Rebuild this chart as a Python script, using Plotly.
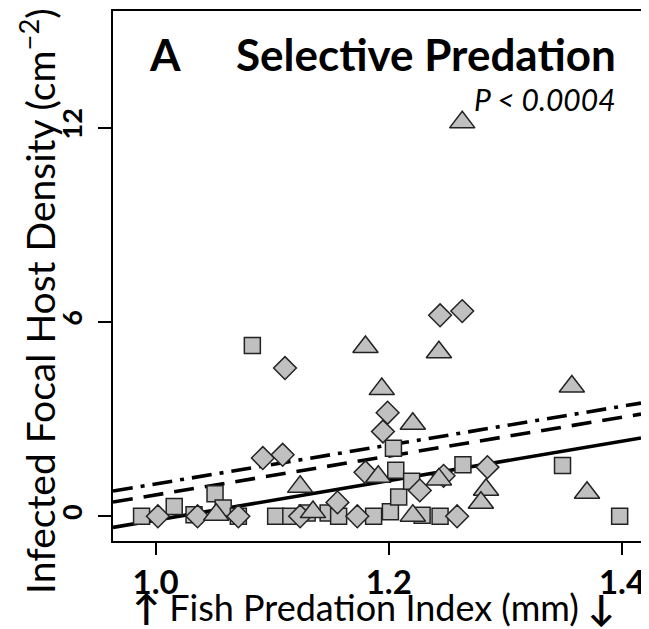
import numpy as np
import plotly.graph_objects as go

# ---- data ----
sq_x = [0.988, 1.016, 1.033, 1.051, 1.058, 1.071, 1.083, 1.103, 1.116, 1.130, 1.148, 1.157,
        1.187, 1.2014, 1.2085, 1.206, 1.204, 1.2196, 1.2286, 1.244, 1.2636, 1.349, 1.398]
sq_y = [0.0, 0.30, 0.05, 0.70, 0.26, 0.0, 5.28, 0.0, 0.0, 0.10, 0.10, 0.0,
        0.0, 0.14, 0.60, 1.42, 2.10, 1.08, 0.03, 0.0, 1.59, 1.57, 0.0]

di_x = [1.002, 1.036, 1.071, 1.092, 1.109, 1.111, 1.124, 1.156, 1.173, 1.180,
        1.195, 1.199, 1.2266, 1.244, 1.263, 1.247, 1.2586, 1.2846]
di_y = [0.0, 0.0, 0.0, 1.80, 1.90, 4.58, 0.0, 0.43, 0.0, 1.36,
        2.62, 3.20, 0.80, 6.21, 6.34, 1.25, 0.0, 1.52]

tr_x = [1.052, 1.124, 1.135, 1.180, 1.194, 1.191, 1.2206, 1.2206, 1.243, 1.243,
        1.263, 1.2834, 1.279, 1.357, 1.370]
tr_y = [0.05, 0.91, 0.13, 5.23, 3.93, 1.22, 2.86, 0.02, 5.07, 1.14,
        12.17, 0.82, 0.42, 4.01, 0.73]

# fitted lines: (intercept at x=1.0, slope)
fit_names = ["solid", "dashed", "dashdot"]
fit_b0 = [-0.12, 0.66, 1.00]
fit_b1 = [6.10, 6.00, 6.00]
fit_dash = ["solid", "20px,11px", "20px,8px,4px,8px"]

x_ticks = [1.0, 1.2, 1.4]
x_ticklabels = ["1.0", "1.2", "1.4"]
y_ticks = [0, 6, 12]
y_ticklabels = ["0", "6", "12"]

x_range = [0.9635, 1.4163]
y_range = [-0.763, 15.61]

FILL = "#c0c0c0"
EDGE = "#222222"
FONT = "Lato"

fig = go.Figure()

xx = np.array(x_range)
for b0, b1, d in zip(fit_b0, fit_b1, fit_dash):
    fig.add_trace(go.Scatter(x=xx, y=b0 + b1 * (xx - 1.0), mode="lines",
                             line=dict(color="black", width=3.6, dash=d),
                             showlegend=False, hoverinfo="skip"))

fig.add_trace(go.Scatter(x=sq_x, y=sq_y, mode="markers",
                         marker=dict(symbol="square", size=16, color=FILL,
                                     line=dict(color=EDGE, width=1.5)),
                         showlegend=False))
fig.add_trace(go.Scatter(x=di_x, y=di_y, mode="markers",
                         marker=dict(symbol="diamond", size=17.5, color=FILL,
                                     line=dict(color=EDGE, width=1.5)),
                         showlegend=False))
fig.add_trace(go.Scatter(x=tr_x, y=tr_y, mode="markers",
                         marker=dict(symbol="triangle-up", size=22, color=FILL,
                                     line=dict(color=EDGE, width=1.5)),
                         showlegend=False))

# page has an 8px body margin: figure is drawn at (8, 8)
OFF = 8
W, H = 641, 621
L, R, T, B = 105, 8, 1, 88
pw, ph = W - L - R, H - T - B


def px(xp):  # page pixel -> paper x
    return (xp - OFF - L) / pw


def py(yp):  # page pixel -> paper y
    return (H - B - (yp - OFF)) / ph


annotations = [
    dict(text="<b>A</b>", x=px(165), y=py(52), xref="paper", yref="paper",
         showarrow=False, font=dict(family=FONT, size=44, color="black"),
         xanchor="center", yanchor="middle"),
    dict(text="<b>Selective Predation</b>", x=px(618), y=py(52), xref="paper", yref="paper",
         showarrow=False, font=dict(family=FONT, size=44, color="black"),
         xanchor="right", yanchor="middle"),
    dict(text="<i>P < 0.0004</i>", x=px(618), y=py(97), xref="paper", yref="paper",
         showarrow=False, font=dict(family=FONT, size=30, color="black"),
         xanchor="right", yanchor="middle"),
    dict(text="<b>↑</b> Fish Predation Index (mm) <b>↓</b>", x=px(374), y=py(607),
         xref="paper", yref="paper",
         showarrow=False, font=dict(family=FONT, size=36, color="black"),
         xanchor="center", yanchor="middle"),
    dict(text="Infected Focal Host Density (cm<sup>−2</sup>)", x=px(38), y=py(300),
         xref="paper", yref="paper", textangle=-90,
         showarrow=False, font=dict(family=FONT, size=39, color="black"),
         xanchor="center", yanchor="middle"),
]

fig.update_layout(
    width=W, height=H,
    margin=dict(l=L, r=R, t=T, b=B, pad=0),
    plot_bgcolor="white", paper_bgcolor="white",
    annotations=annotations,
    xaxis=dict(range=x_range, tickvals=x_ticks, ticktext=x_ticklabels,
               showgrid=False, zeroline=False, showline=True, mirror=True,
               linecolor="black", linewidth=1.5, ticks="outside", ticklen=12,
               tickwidth=1.5, tickcolor="black", ticklabelstandoff=0,
               tickfont=dict(family=FONT, size=33, color="black", weight="bold")),
    yaxis=dict(range=y_range, tickvals=y_ticks, ticktext=y_ticklabels,
               showgrid=False, zeroline=False, showline=True, mirror=True,
               linecolor="black", linewidth=1.5, ticks="outside", ticklen=13,
               tickwidth=1.5, tickcolor="black", tickangle=-90, ticklabelstandoff=5,
               tickfont=dict(family=FONT, size=27, color="black", weight="bold")),
)

fig.write_html("out.html")
